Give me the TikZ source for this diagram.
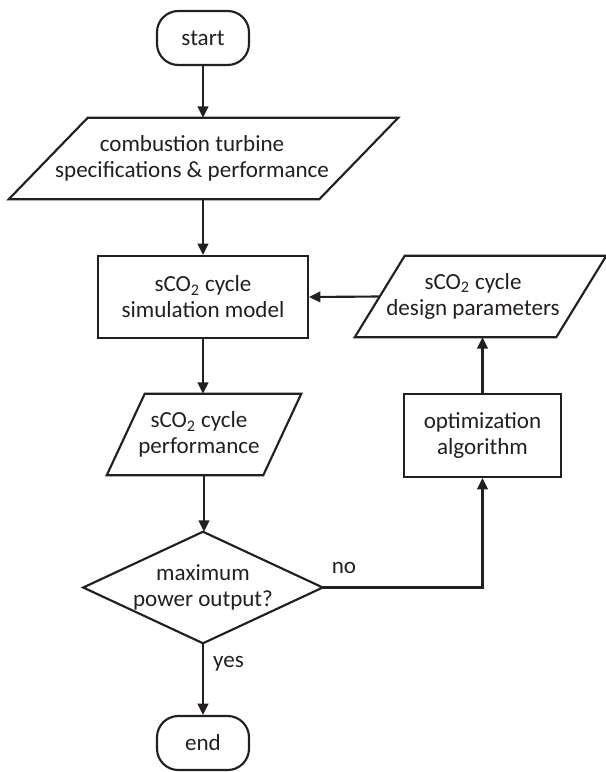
\documentclass[tikz,border=0pt]{standalone}
\usepackage{fontspec}
\setmainfont{Carlito}
\usetikzlibrary{arrows.meta,calc}
\definecolor{ink}{HTML}{231F20}
\begin{document}
\begin{tikzpicture}[x=0.75pt,y=-0.75pt,
  every node/.style={font=\fontsize{17.3pt}{19.5pt}\selectfont, text=ink, align=center, inner sep=0pt},
  line/.style={draw=ink, line width=1.6pt, line join=miter},
  arr/.style={line, -{Triangle[length=8.5pt,width=8pt]}},
  terminal/.style={line, rectangle, rounded corners=16pt, minimum width=69pt, minimum height=40.5pt},
  procbox/.style={line, rectangle, minimum width=#1},
  frame/.style={rectangle, minimum width=#1},
  lbl/.style={font=\fontsize{17.3pt}{19.5pt}\selectfont}
]
\useasboundingbox (0,0) rectangle (606,772);

% terminals and process boxes
\node[terminal] (start) at (203,38) {start};
\node[procbox=157.5pt, minimum height=61.5pt] (sim) at (203,297)
  {sCO\textsubscript{2} cycle\\simulation model};
\node[procbox=117.75pt, minimum height=62.25pt] (opt) at (482.5,435.5)
  {optimization\\algorithm};
\node[terminal] (end) at (203,743) {end};

% data (parallelogram) nodes: the frame is the mid-height box, the outline is drawn below
\node[frame=232.5pt, minimum height=60.75pt,
  label={[xshift=-8.6pt]center:combustion turbine\\specifications \& performance}] (spec) at (203.5,158.5) {};
\node[frame=150.75pt, minimum height=60.75pt,
  label={[xshift=-5.6pt]center:sCO\textsubscript{2} cycle\\design parameters}] (des) at (480.5,296.5) {};
\node[frame=117pt, minimum height=60.75pt,
  label={[xshift=-3.75pt]center:sCO\textsubscript{2} cycle\\performance}] (perf) at (204,434.5) {};

% decision frame
\node[frame=179.25pt, minimum height=83.25pt] (dec) at (203,587.5) {maximum\\power output?};

% outlines of the parallelograms (slant given in px)
\foreach \n/\s in {spec/79, des/50, perf/38}{
  \draw[line] ($(\n.south west)+(-\s/2,0)$) -- ($(\n.south east)+(-\s/2,0)$)
    -- ($(\n.north east)+(\s/2,0)$) -- ($(\n.north west)+(\s/2,0)$) -- cycle;
}
% outline of the decision diamond
\draw[line] (dec.north) -- (dec.east) -- (dec.south) -- (dec.west) -- cycle;

% connectors
\draw[arr] (start.south) -- (start.south |- spec.north);
\draw[arr] (spec.south) -- (spec.south -| sim.north) -- (sim.north);
\draw[arr] (sim.south) -- (sim.south |- perf.north);
\draw[arr] (perf.south) -- (perf.south |- dec.north);
\draw[arr] (dec.south) -- (end.north);
\draw[arr] (dec.east) -| (opt.south);
\draw[arr] (opt.north) -- (opt.north |- des.south);
\draw[arr] (des.west) -- (sim.east);

% branch labels
\node[lbl] (no) at (344,568) {no};
\node[lbl] (yes) at (228.5,664) {yes};
\end{tikzpicture}
\end{document}
